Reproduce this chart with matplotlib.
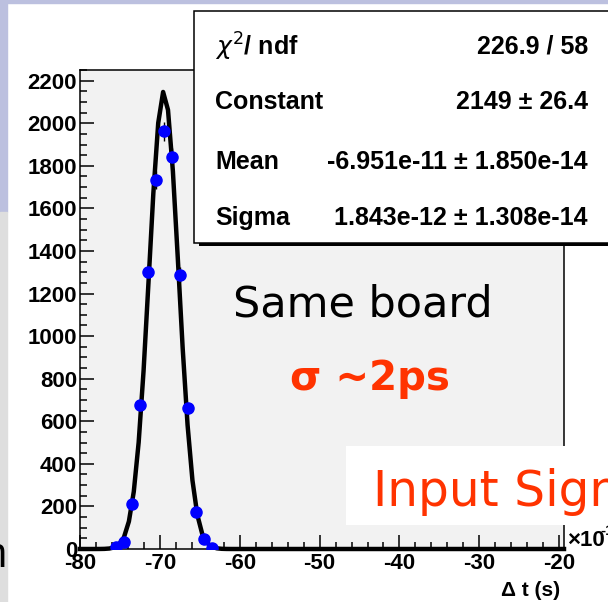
import numpy as np
import matplotlib.pyplot as plt
from matplotlib.patches import Rectangle
from matplotlib.ticker import MultipleLocator

# time difference histogram, bins in units of 1e-12 s
bin_centers = [-75.5, -74.5, -73.5, -72.5, -71.5, -70.5, -69.5,
               -68.5, -67.5, -66.5, -65.5, -64.5, -63.5]
counts = [8, 33, 211, 675, 1303, 1734, 1963, 1842, 1289, 661, 173, 47, 5]

# gaussian fit result
fit_const = 2149
fit_mean = -69.51   # x1e-12
fit_sigma = 1.843   # x1e-12
stat_names = [r"$\chi^2$/ ndf", "Constant", "Mean", "Sigma"]
stat_values = ["226.9 / 58", "2149 ± 26.4",
               "-6.951e-11 ± 1.850e-14", "1.843e-12 ± 1.308e-14"]

x_range = (-80, -19.4)
y_range = (0, 2250)

W, H = 608, 602
red = "#ff3300"
font = "Liberation Sans"

fig = plt.figure(figsize=(W / 100, H / 100), dpi=100)
fig.patch.set_facecolor("white")


def fx(px):
    return px / W


def fy(py):
    return 1 - py / H


# slide background bits around the canvas
fig.add_artist(Rectangle((0, fy(3)), 1, fy(0) - fy(3), transform=fig.transFigure,
                         color="#bcc0df", zorder=-2))
fig.add_artist(Rectangle((0, fy(212)), fx(7), 1 - fy(212), transform=fig.transFigure,
                         color="#bcc0df", zorder=-2))
fig.add_artist(Rectangle((0, 0), fx(7), fy(212), transform=fig.transFigure,
                         color="#dedede", zorder=-2))
fig.text(fx(6), fy(556), "n", ha="right", va="center", fontsize=30,
         family=font, color="black", zorder=-1)

ax = fig.add_axes([fx(80), fy(549), fx(564) - fx(80), fy(70) - fy(549)])
ax.set_facecolor("#f2f2f2")

xs = np.linspace(x_range[0], x_range[1], 100)
fit_curve = fit_const * np.exp(-0.5 * ((xs - fit_mean) / fit_sigma) ** 2)
ax.plot(xs, fit_curve, color="black", lw=3.2, zorder=3, clip_on=False)

ax.errorbar(bin_centers, counts, yerr=np.sqrt(counts), fmt="none",
            ecolor="black", elinewidth=1, zorder=2)
ax.plot(bin_centers, counts, "o", color="#0000ff", ms=8, zorder=4)

ax.set_xlim(*x_range)
ax.set_ylim(*y_range)
ax.xaxis.set_major_locator(MultipleLocator(10))
ax.xaxis.set_minor_locator(MultipleLocator(2))
ax.yaxis.set_major_locator(MultipleLocator(200))
ax.yaxis.set_minor_locator(MultipleLocator(50))
ax.tick_params(which="both", direction="in", top=False, right=False,
               width=1.1, labelsize=16)
ax.tick_params(which="major", length=10)
ax.tick_params(which="minor", length=5)
ax.tick_params(axis="y", pad=2)
ax.tick_params(axis="x", pad=3)
for lab in ax.get_xticklabels() + ax.get_yticklabels():
    lab.set_fontfamily(font)
    lab.set_fontweight("bold")
ax.xaxis.set_major_formatter(lambda v, p: f"{v:.0f}")
for s in ax.spines.values():
    s.set_linewidth(1.1)

# axis exponent and title
fig.text(fx(567), fy(541), "×10", ha="left", va="center", fontsize=16,
         family=font, fontweight="bold")
fig.text(fx(600), fy(531), "-12", ha="left", va="center", fontsize=11,
         family=font, fontweight="bold")
fig.text(fx(560), fy(590), "Δ t (s)", ha="right", va="center", fontsize=15,
         family=font, fontweight="bold")

# fit statistics box with shadow
box_l, box_t, box_b = 194, 11, 243
fig.add_artist(Rectangle((fx(box_l + 5), fy(box_b + 3)), 1, fy(box_t + 3) - fy(box_b + 3),
                         transform=fig.transFigure, facecolor="black",
                         edgecolor="none", zorder=5))
fig.add_artist(Rectangle((fx(box_l), fy(box_b)), 1, fy(box_t) - fy(box_b),
                         transform=fig.transFigure, facecolor="white",
                         edgecolor="black", lw=1.1, zorder=6))
row_y = [47, 102, 162, 218]
for name, val, ry in zip(stat_names, stat_values, row_y):
    fig.text(fx(215), fy(ry), name, ha="left", va="center", fontsize=18,
             family=font, fontweight="bold", zorder=7)
    fig.text(fx(588), fy(ry), val, ha="right", va="center", fontsize=18,
             family=font, fontweight="bold", zorder=7)

# annotations
fig.text(fx(363), fy(317), "Same board", ha="center", va="baseline",
         fontsize=31, family="DejaVu Sans", color="black", zorder=7)
fig.text(fx(290), fy(390), "σ ~2ps", ha="left", va="baseline",
         fontsize=29, family="DejaVu Sans", fontweight="bold", color=red, zorder=7)

fig.add_artist(Rectangle((fx(346), fy(525)), 1, fy(446) - fy(525),
                         transform=fig.transFigure, facecolor="white",
                         edgecolor="none", zorder=6))
fig.text(fx(373), fy(506), "Input Signal", ha="left", va="baseline",
         fontsize=35, family="DejaVu Sans", color=red, zorder=7)

fig.savefig("out.png", dpi=100)
